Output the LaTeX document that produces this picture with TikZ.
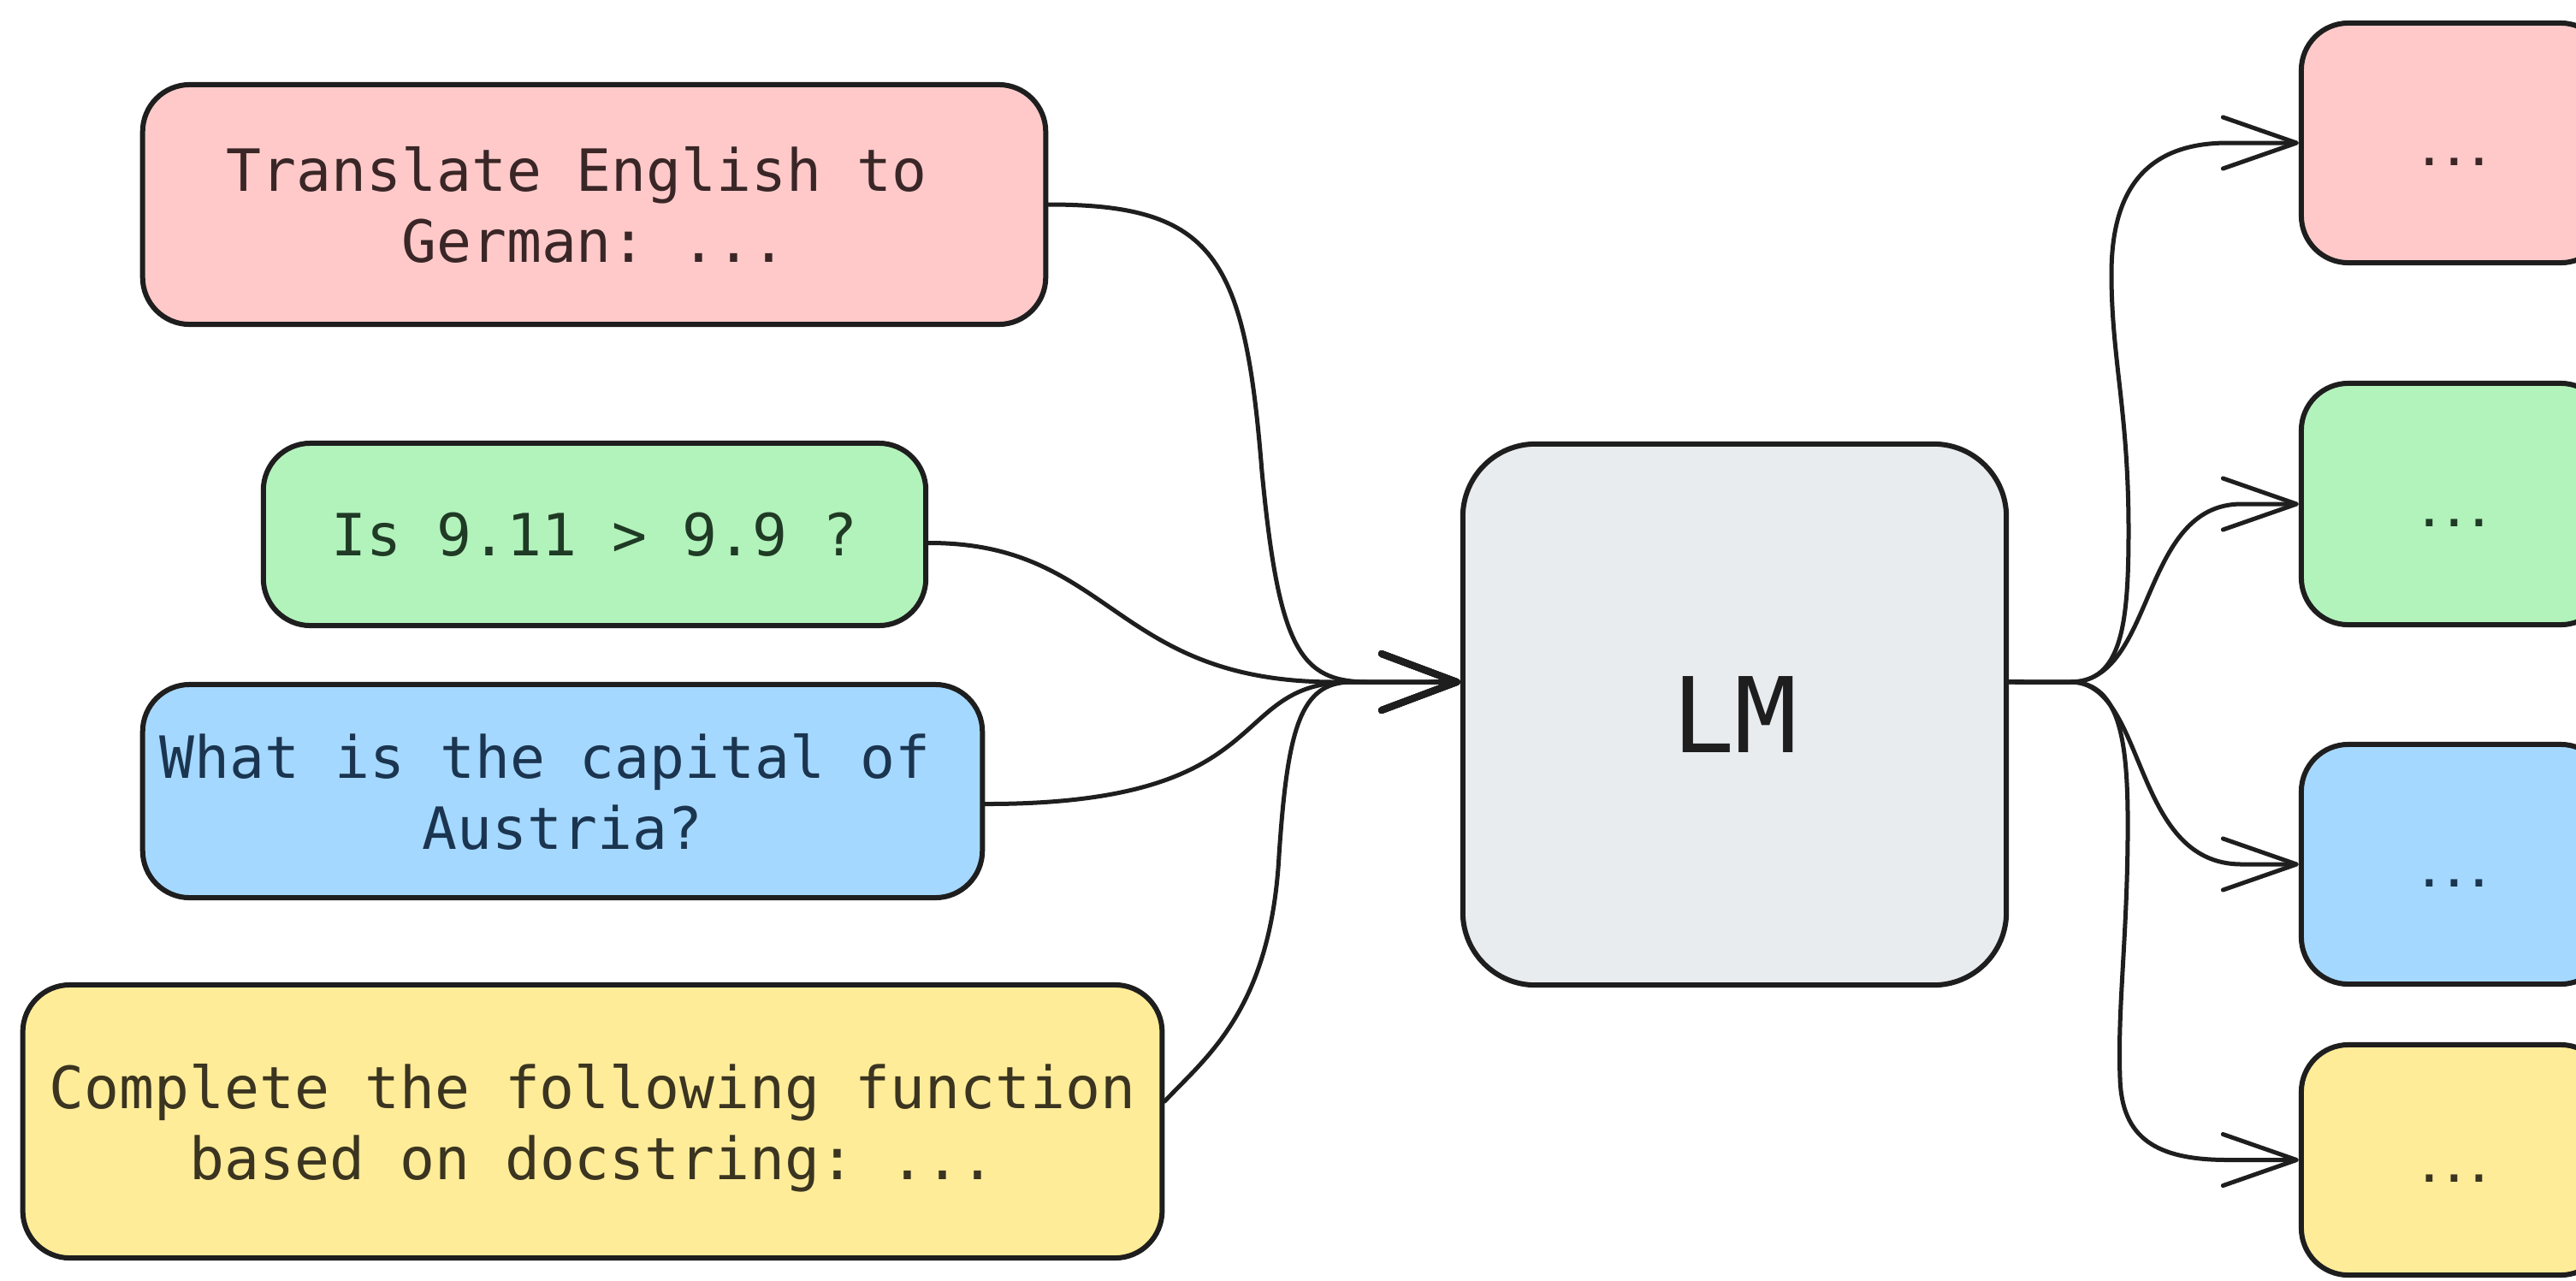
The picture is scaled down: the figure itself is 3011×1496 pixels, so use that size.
\documentclass[tikz,border=0pt]{standalone}
\usepackage{fontspec}
\setmonofont{DejaVu Sans Mono}
\usetikzlibrary{arrows.meta}

\definecolor{ink}{HTML}{1E1E1E}
\definecolor{redfill}{HTML}{FFC9C9}
\definecolor{greenfill}{HTML}{B2F2BB}
\definecolor{bluefill}{HTML}{A5D8FF}
\definecolor{yellowfill}{HTML}{FFEC99}
\definecolor{greyfill}{HTML}{E9ECEF}
\definecolor{redink}{HTML}{3A2626}
\definecolor{greenink}{HTML}{1F3A25}
\definecolor{blueink}{HTML}{1B3550}
\definecolor{yellowink}{HTML}{3A3420}

\begin{document}
\begin{tikzpicture}[x=0.01cm, y=-0.01cm,
  box/.style={draw=ink, line width=0.06cm, rounded corners=0.55cm,
    inner sep=0pt, align=center, text depth=0pt,
    font={\ttfamily\fontsize{19.35pt}{23.62pt}\selectfont}},
  outbox/.style={box, text height=0.52cm, text depth=0pt,
    minimum width=3.58cm,
    font={\ttfamily\bfseries\fontsize{13.6pt}{15pt}\selectfont}},
  link/.style={draw=ink, line width=0.05cm, line cap=round, line join=round},
  intip/.style={-{Straight Barb[length=0.88cm, width=0.66cm, line width=0.08cm, round]}},
  outtip/.style={-{Straight Barb[length=0.86cm, width=0.60cm, round]}}]

\useasboundingbox (0,0) rectangle (3011,1496);
\fill[white] (0,0) rectangle (3011,1496);
\clip (0,0) rectangle (3011,1496);

% prompts
\node[box, fill=redfill, text=redink, minimum width=10.55cm, minimum height=2.80cm]
  (pinkL) at (694.5,239) {Translate English to\hphantom{x}\\German: ...};
\node[box, fill=greenfill, text=greenink, minimum width=7.74cm, minimum height=2.13cm]
  (greenL) at (695,624.5) {Is 9.11 > 9.9 ?};
\node[box, fill=bluefill, text=blueink, minimum width=9.81cm, minimum height=2.49cm]
  (blueL) at (657.5,924.5) {What is the capital of\hphantom{x}\\Austria?};
\node[box, fill=yellowfill, text=yellowink, minimum width=13.31cm, minimum height=3.19cm]
  (yellowL) at (692.5,1310.5) {Complete the following function\\based on docstring: ...};

% language model
\node[box, fill=greyfill, text=ink, rounded corners=0.85cm,
  minimum width=6.35cm, minimum height=6.32cm,
  font={\ttfamily\fontsize{34.7pt}{40pt}\selectfont}]
  (lm) at (2027.5,835) {LM};
\coordinate (lmin) at ([yshift=0.38cm]lm.west);
\coordinate (lmout) at ([yshift=0.38cm]lm.east);

% outputs
\node[outbox, fill=redfill, text=redink, minimum height=2.80cm]
  (pinkR) at (2869,167) {...};
\node[outbox, fill=greenfill, text=greenink, minimum height=2.82cm]
  (greenR) at (2869,589) {...};
\node[outbox, fill=bluefill, text=blueink, minimum height=2.80cm]
  (blueR) at (2869,1010) {...};
\node[outbox, fill=yellowfill, text=yellowink, minimum height=2.69cm]
  (yellowR) at (2869,1355.5) {...};

% prompts flowing into the model
\draw[link, intip] (pinkL.east)
  .. controls (1420,239) and (1455,300) .. (1475,551)
  .. controls (1495,760) and (1520,797) .. (1600,797) -- (lmin);
\draw[link, intip] ([yshift=-0.1cm]greenL.east)
  .. controls (1300,634) and (1300,797) .. (1560,797) -- (lmin);
\draw[link, intip] ([yshift=-0.15cm]blueL.east)
  .. controls (1500,940) and (1430,797) .. (1580,797) -- (lmin);
\draw[link, intip] ([yshift=0.235cm]yellowL.east)
  .. controls (1410,1235) and (1485,1180) .. (1495,1000)
  .. controls (1505,850) and (1520,797) .. (1580,797) -- (lmin);

% model fanning out to the answers
\draw[link, outtip] (lmout) -- (2420,797)
  .. controls (2480,797) and (2488,730) .. (2488,620)
  .. controls (2488,480) and (2468,420) .. (2468,320)
  .. controls (2468,220) and (2510,167) .. (2604,167) -- (pinkR.west);
\draw[link, outtip] (lmout) -- (2420,797)
  .. controls (2520,797) and (2500,589) .. (2620,589) -- (greenR.west);
\draw[link, outtip] (lmout) -- (2420,797)
  .. controls (2510,797) and (2490,1010) .. (2620,1010) -- (blueR.west);
\draw[link, outtip] (lmout) -- (2420,797)
  .. controls (2480,797) and (2488,870) .. (2487,980)
  .. controls (2486,1100) and (2475,1180) .. (2478,1260)
  .. controls (2480,1330) and (2520,1355.5) .. (2604,1355.5) -- (yellowR.west);

\end{tikzpicture}
\end{document}
